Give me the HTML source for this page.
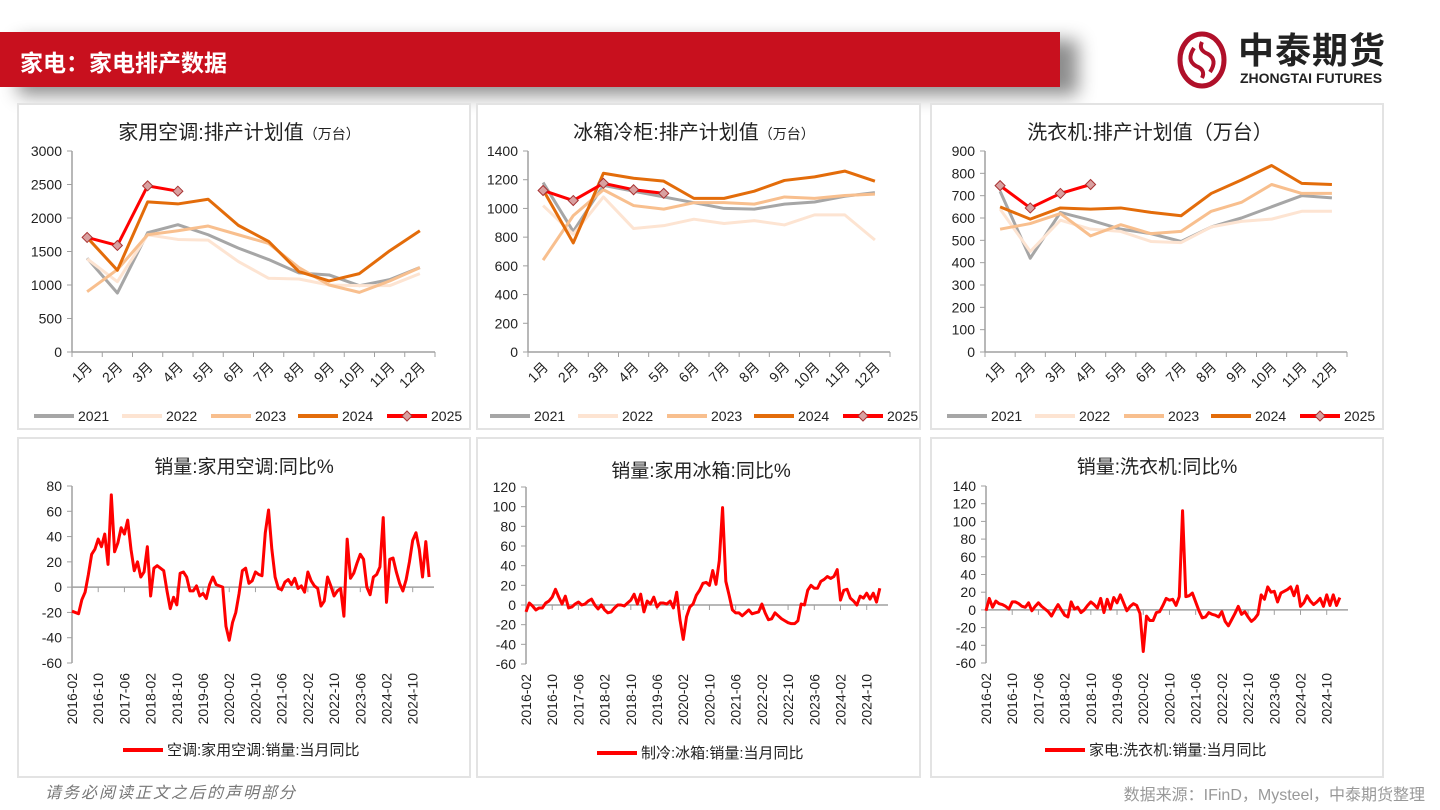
<!DOCTYPE html>
<html><head><meta charset="utf-8">
<style>
body{margin:0;width:1440px;height:810px;background:#fff;overflow:hidden;position:relative;font-family:"Liberation Sans","Noto Sans CJK SC",sans-serif;}
.panel{position:absolute;border:2px solid #e3e3e3;box-sizing:border-box;background:#fff;}
#hdr{position:absolute;left:0;top:32px;width:1060px;height:55px;background:#c8101e;box-shadow:18px 8px 18px rgba(0,0,0,0.45);}
#hdr span{position:absolute;left:20px;top:12px;color:#fff;font-size:23px;font-weight:bold;font-family:"Liberation Sans","Noto Sans CJK SC",sans-serif;}
svg text{font-family:"Liberation Sans","Noto Sans CJK SC",sans-serif;}
</style></head><body>
<div id="hdr"><span>家电：家电排产数据</span></div>
<div style="position:absolute;left:1172px;top:30px;width:250px;height:60px;">
<svg width="60" height="60"><ellipse cx="30" cy="30" rx="22" ry="26" fill="none" stroke="#b0102a" stroke-width="5"/><path d="M22 18 Q14 30 24 36 Q34 40 30 48 M38 42 Q46 30 36 24 Q26 20 30 12" fill="none" stroke="#b0102a" stroke-width="4"/></svg>
<div style="position:absolute;left:66px;top:0px;font-size:36px;font-weight:bold;color:#222;letter-spacing:1px;line-height:42px;">中泰期货</div>
<div style="position:absolute;left:68px;top:40px;font-size:14px;font-weight:bold;color:#222;">ZHONGTAI FUTURES</div>
</div>
<div class="panel" style="left:17px;top:103px;width:454px;height:327px"></div>
<div class="panel" style="left:476px;top:103px;width:445px;height:327px"></div>
<div class="panel" style="left:930px;top:103px;width:454px;height:327px"></div>
<div class="panel" style="left:17px;top:437px;width:454px;height:341px"></div>
<div class="panel" style="left:476px;top:437px;width:445px;height:341px"></div>
<div class="panel" style="left:930px;top:437px;width:454px;height:341px"></div>
<div style="position:absolute;left:45px;top:779px;font-size:16px;color:#777;font-style:italic;letter-spacing:2px;">请务必阅读正文之后的声明部分</div>
<div style="position:absolute;right:15px;top:781px;font-size:16px;color:#999;">数据来源：IFinD，Mysteel，中泰期货整理</div>
<svg id="chart" width="1440" height="810" style="position:absolute;left:0;top:0"></svg>
<script>
const months = ["1月","2月","3月","4月","5月","6月","7月","8月","9月","10月","11月","12月"];
const years = ["2021","2022","2023","2024","2025"];
const yearColors = ["#a6a6a6","#fde4d2","#f8bf8e","#e36c0a","#ff0000"];
const ac2021 = [1400,880,1780,1900,1750,1550,1380,1180,1150,990,1080,1260];
const ac2022 = [1390,1050,1750,1680,1670,1350,1100,1090,1000,990,990,1170];
const ac2023 = [900,1230,1750,1810,1880,1750,1620,1260,1000,890,1060,1260];
const ac2024 = [1710,1220,2240,2210,2280,1890,1650,1200,1060,1170,1510,1810];
const ac2025 = [1710,1590,2480,2400];
const fr2021 = [1180,840,1160,1120,1080,1040,1000,995,1030,1045,1085,1110];
const fr2022 = [1020,820,1080,860,880,925,895,915,885,955,955,780];
const fr2023 = [640,950,1130,1020,995,1040,1040,1030,1080,1070,1090,1100];
const fr2024 = [1130,760,1245,1210,1190,1070,1070,1120,1195,1220,1260,1190];
const fr2025 = [1125,1055,1175,1130,1105];
const wa2021 = [720,420,625,590,550,530,495,560,600,650,700,690];
const wa2022 = [640,450,590,550,540,495,490,560,585,595,630,630];
const wa2023 = [550,575,620,520,570,530,540,630,670,750,710,710];
const wa2024 = [650,595,645,640,645,625,610,710,770,835,755,750];
const wa2025 = [745,645,710,750];
const acTicks = [0,500,1000,1500,2000,2500,3000];
const frTicks = [0,200,400,600,800,1000,1200,1400];
const waTicks = [0,100,200,300,400,500,600,700,800,900];
const dateLabels = ["2016-02","2016-10","2017-06","2018-02","2018-10","2019-06","2020-02","2020-10","2021-06","2022-02","2022-10","2023-06","2024-02","2024-10"];
const acSales = [-19,-20,-21,-10,-4,10,26,30,38,32,42,18,73,28,35,47,42,53,30,13,20,8,12,32,-7,15,17,15,13,-3,-17,-8,-14,11,12,8,-3,-3,1,-7,-5,-9,2,8,2,1,0,-31,-42,-28,-20,-5,13,15,3,5,12,10,9,43,61,30,8,-1,-2,4,6,2,7,-1,1,-4,12,5,1,-1,-15,-11,8,1,-7,-3,-1,-23,38,7,11,19,26,22,0,-6,8,10,16,55,-12,22,23,12,3,-3,6,20,37,43,30,8,36,8];
const frSales = [-7,2,-1,-5,-3,-3,2,4,8,16,8,1,9,-3,-2,1,3,0,1,4,6,0,-4,0,-5,-8,-7,-3,0,0,-1,2,5,11,1,11,-7,4,1,8,-2,2,2,1,4,-3,13,-15,-35,-12,-2,1,10,15,22,23,20,35,21,45,99,24,10,-5,-8,-8,-11,-8,-5,-9,-8,-7,1,-8,-15,-14,-8,-11,-14,-16,-18,-19,-19,-16,1,0,15,20,17,17,24,26,29,27,29,36,5,15,16,7,4,0,9,7,12,6,12,3,17];
const waSales = [-1,13,3,10,7,6,4,1,9,9,7,4,3,8,-1,4,8,4,1,-2,-7,0,6,0,-6,-8,9,1,3,-3,0,5,9,6,2,13,-3,12,1,14,8,17,8,-1,4,7,5,-4,-47,-7,-12,-12,-3,-2,5,13,11,12,5,15,112,15,16,19,9,-1,-9,-8,-3,-5,-6,-8,-2,-13,-18,-11,-4,4,-5,-2,-8,-13,-10,-5,17,12,26,20,21,9,19,21,23,26,16,27,4,8,16,10,6,9,13,4,17,5,17,5,14];
const acSalesTicks = [-60,-40,-20,0,20,40,60,80];
const frSalesTicks = [-60,-40,-20,0,20,40,60,80,100,120];
const waSalesTicks = [-60,-40,-20,0,20,40,60,80,100,120,140];

const svg = document.getElementById('chart');
const NS = 'http://www.w3.org/2000/svg';
function mk(tag, attrs, parent){const e=document.createElementNS(NS,tag);for(const k in attrs)e.setAttribute(k,attrs[k]);(parent||svg).appendChild(e);return e;}
function txt(x,y,s,size,anchor,parent,fill){const t=mk('text',{x:x,y:y,'font-size':size,'text-anchor':anchor||'middle',fill:fill||'#222'},parent);t.textContent=s;return t;}

function yearChart(cfg){
  const g=mk('g',{});
  
  
  const ymax=cfg.ticks[cfg.ticks.length-1];
  const Y=v=>cfg.yBot-(v/ymax)*(cfg.yBot-cfg.yTop);
  const cw=(cfg.xEnd-cfg.x0)/12;
  const X=i=>cfg.x0+cw*(i+0.5);
  const t=txt(cfg.tx,139,cfg.title,20,'middle',g);
  
  
  if(cfg.unit){const sp=mk('tspan',{'font-size':cfg.unitSize},t);sp.textContent=cfg.unit;}
  mk('line',{x1:cfg.x0,y1:cfg.yTop,x2:cfg.x0,y2:cfg.yBot,stroke:'#a0a0a0','stroke-width':1.5},g);
  mk('line',{x1:cfg.x0,y1:cfg.yBot,x2:cfg.xEnd,y2:cfg.yBot,stroke:'#a0a0a0','stroke-width':1.5},g);
  cfg.ticks.forEach(v=>{mk('line',{x1:cfg.x0-5,y1:Y(v),x2:cfg.x0,y2:Y(v),stroke:'#a0a0a0'},g);
    const l=txt(cfg.x0-10,Y(v)+5,String(v),14,'end',g);
    
    });
  for(let i=0;i<=12;i++)mk('line',{x1:cfg.x0+cw*i,y1:cfg.yBot,x2:cfg.x0+cw*i,y2:cfg.yBot+5,stroke:'#a0a0a0'},g);
  months.forEach((m,i)=>{const l=txt(0,0,m,14,'end',g);l.setAttribute('transform',`translate(${X(i)+6},${cfg.yBot+16}) rotate(-45)`);
    
    });
  cfg.series.forEach((s,k)=>{
    const p=mk('polyline',{points:s.map((v,i)=>X(i)+','+Y(v)).join(' '),fill:'none',stroke:yearColors[k],'stroke-width':3,'stroke-linejoin':'round'},g);
    
    
    if(k===4)s.forEach((v,i)=>{const d=mk('path',{d:`M${X(i)} ${Y(v)-5}L${X(i)+5} ${Y(v)}L${X(i)} ${Y(v)+5}L${X(i)-5} ${Y(v)}Z`,fill:'#d9a0a0',stroke:'#a83232','stroke-width':1},g);
      
      });
  });
  const lx=cfg.x0-38, off=[0,88,177,264,353];
  years.forEach((y,k)=>{const lg=mk('g',{},g);
    
    
    const a=lx+off[k];mk('line',{x1:a,y1:416,x2:a+40,y2:416,stroke:yearColors[k],'stroke-width':4},lg);
    if(k===4)mk('path',{d:`M${a+20} 411L${a+25} 416L${a+20} 421L${a+15} 416Z`,fill:'#d9a0a0',stroke:'#a83232'},lg);
    txt(a+44,421,y,14,'start',lg);});
}
yearChart({name:'ac-plan-chart',title:'家用空调:排产计划值',unit:'（万台）',unitSize:14,tx:239,x0:72,xEnd:435,yTop:151,yBot:352,ticks:acTicks,series:[ac2021,ac2022,ac2023,ac2024,ac2025]});
yearChart({name:'fridge-plan-chart',title:'冰箱冷柜:排产计划值',unit:'（万台）',unitSize:14,tx:694,x0:528,xEnd:890,yTop:151,yBot:352,ticks:frTicks,series:[fr2021,fr2022,fr2023,fr2024,fr2025]});
yearChart({name:'washer-plan-chart',title:'洗衣机:排产计划值',unit:'（万台）',unitSize:20,tx:1150,x0:985,xEnd:1347,yTop:151,yBot:352,ticks:waTicks,series:[wa2021,wa2022,wa2023,wa2024,wa2025]});

function salesChart(cfg){
  const g=mk('g',{});
  
  
  const lo=cfg.ticks[0],hi=cfg.ticks[cfg.ticks.length-1];
  const Y=v=>cfg.yBot-(v-lo)/(hi-lo)*(cfg.yBot-cfg.yTop);
  const step=(cfg.xEnd-cfg.x0)/110.5;
  const X=i=>cfg.x0+i*step;
  const t=txt(cfg.tx,cfg.ty,cfg.title,19,'middle',g);
  
  
  mk('line',{x1:cfg.x0,y1:cfg.yTop,x2:cfg.x0,y2:cfg.yBot,stroke:'#a0a0a0','stroke-width':1.5},g);
  mk('line',{x1:cfg.x0,y1:Y(0),x2:cfg.xEnd,y2:Y(0),stroke:'#a0a0a0','stroke-width':1.5},g);
  cfg.ticks.forEach(v=>{mk('line',{x1:cfg.x0-5,y1:Y(v),x2:cfg.x0,y2:Y(v),stroke:'#a0a0a0'},g);
    const l=txt(cfg.x0-10,Y(v)+5,String(v),14,'end',g);
    
    });
  dateLabels.forEach((d,k)=>{const x=X(k*8);
    if(k>0)mk('line',{x1:x,y1:Y(0),x2:x,y2:Y(0)+5,stroke:'#a0a0a0'},g);
    const l=txt(0,0,d,14,'end',g);l.setAttribute('transform',`translate(${x+5},${cfg.yBot+10}) rotate(-90)`);
    
    });
  const p=mk('polyline',{points:cfg.data.map((v,i)=>X(i)+','+Y(v)).join(' '),fill:'none',stroke:'#ff0000','stroke-width':3,'stroke-linejoin':'round'},g);
  
  
  const lg=mk('g',{},g);
  
  
  mk('line',{x1:cfg.lx,y1:cfg.ly,x2:cfg.lx+40,y2:cfg.ly,stroke:'#ff0000','stroke-width':4},lg);
  txt(cfg.lx+44,cfg.ly+5,cfg.legend,15,'start',lg);
}
salesChart({name:'ac-sales-chart',title:'销量:家用空调:同比%',tx:244,ty:473,x0:72,xEnd:434,yTop:486,yBot:663,ticks:acSalesTicks,data:acSales,lx:123,ly:750,legend:'空调:家用空调:销量:当月同比'});
salesChart({name:'fridge-sales-chart',title:'销量:家用冰箱:同比%',tx:701,ty:477,x0:526,xEnd:888,yTop:487,yBot:664,ticks:frSalesTicks,data:frSales,lx:597,ly:753,legend:'制冷:冰箱:销量:当月同比'});
salesChart({name:'washer-sales-chart',title:'销量:洗衣机:同比%',tx:1157,ty:473,x0:986,xEnd:1348,yTop:486,yBot:663,ticks:waSalesTicks,data:waSales,lx:1045,ly:750,legend:'家电:洗衣机:销量:当月同比'});
</script>
</body></html>
